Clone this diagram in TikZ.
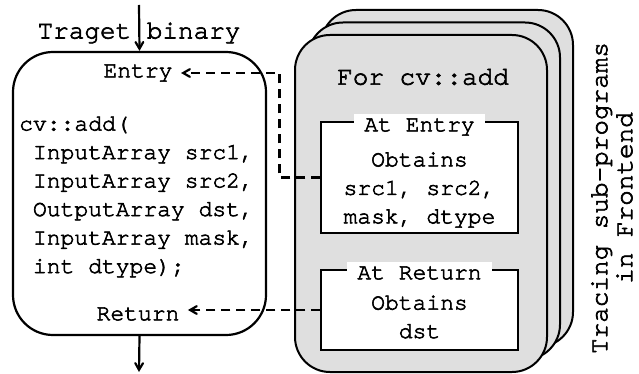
\documentclass[tikz,border=0pt]{standalone}
\usepackage{fontspec}
\setmonofont{TeX Gyre Cursor}[FakeBold=2.5]
\usepackage{tikz}
\usetikzlibrary{calc}
\usetikzlibrary{arrows}
\usetikzlibrary{positioning}
\definecolor{stackgray}{RGB}{223, 223, 223}
\newcommand{\codefont}{\fontsize{23}{28.5}\selectfont\ttfamily}
\newcommand{\titlefont}{\fontsize{26}{30}\selectfont\ttfamily}
\newcommand{\sidefont}{\fontsize{26}{25}\selectfont\ttfamily}

\tikzset{
  progbox/.style={draw, line width=2.2pt, rounded corners=40pt, minimum width=253pt, minimum height=283pt},
  tracebox/.style={draw, line width=2pt, fill=stackgray, rounded corners=35pt, minimum width=252pt, minimum height=337pt},
  probebox/.style={draw, line width=1.2pt, fill=white, minimum width=197pt},
  probetitle/.style={fill=white, inner xsep=10pt, inner ysep=4pt, font=\codefont},
  hook/.style={line width=2.2pt, dash pattern=on 9pt off 6pt, ->, >=angle 60, shorten >=5pt},
  flow/.style={line width=2.2pt, ->, >=angle 60},
}

\begin{document}
\begin{tikzpicture}[x=1pt, y=-1pt]
            \useasboundingbox (0,0) rectangle (639,374);
            % target program
            \node[progbox] (prog) at (139.5,193.5) {};
            \node[font=\titlefont] (target) at (139,33) {Traget binary};
            \coordinate (feed) at (139,5);
            \coordinate (exit) at (139,372);
            \draw[flow] (feed) -- (prog.north);
            \draw[flow] (prog.south) -- (exit);
            \node[font=\codefont] (entry) at (138,73) {Entry};
            \node[font=\codefont] (return) at (138,314) {Return};
            \node[font=\codefont, align=left, anchor=west, inner sep=0pt] (sig) at (19,197)
                 {cv::add(\\~InputArray src1,\\~InputArray src2,\\~OutputArray dst,\\~InputArray mask,\\~int dtype);};
            % stack of tracing sub-programs
            \node[tracebox] (back) at (447,178.5) {};
            \node[tracebox] (middle) at (434,191) {};
            \node[tracebox] (front) at (421,203.5) {};
            \node[font=\titlefont] (forfn) at (423,77) {For cv::add};
            \node[probebox, minimum height=111pt] (atentry) at (419.5,177.5) {};
            \node[probetitle] (entrytitle) at (419.5,127) {At Entry};
            \node[font=\codefont, align=center] (entrybody) at (419.5,190)
                 {\fontsize{23}{27}\selectfont Obtains\\src1, src2,\\mask, dtype};
            \node[probebox, minimum height=80pt] (atreturn) at (419.5,310) {};
            \node[probetitle] (returntitle) at (419.5,273) {At Return};
            \node[font=\codefont, align=center] (returnbody) at (419.5,317)
                 {Obtains\\dst};
            \node[font=\sidefont, rotate=90, align=center] (side) at (612,198)
                 {Tracing sub-programs\\in Frontend};
            % hooks
            \draw[hook] (atentry.west) -- ++(-41,0) |- (entry.east);
            \draw[hook] (atreturn.west) -- (atreturn.west -| return.east);
        \end{tikzpicture}
\end{document}
